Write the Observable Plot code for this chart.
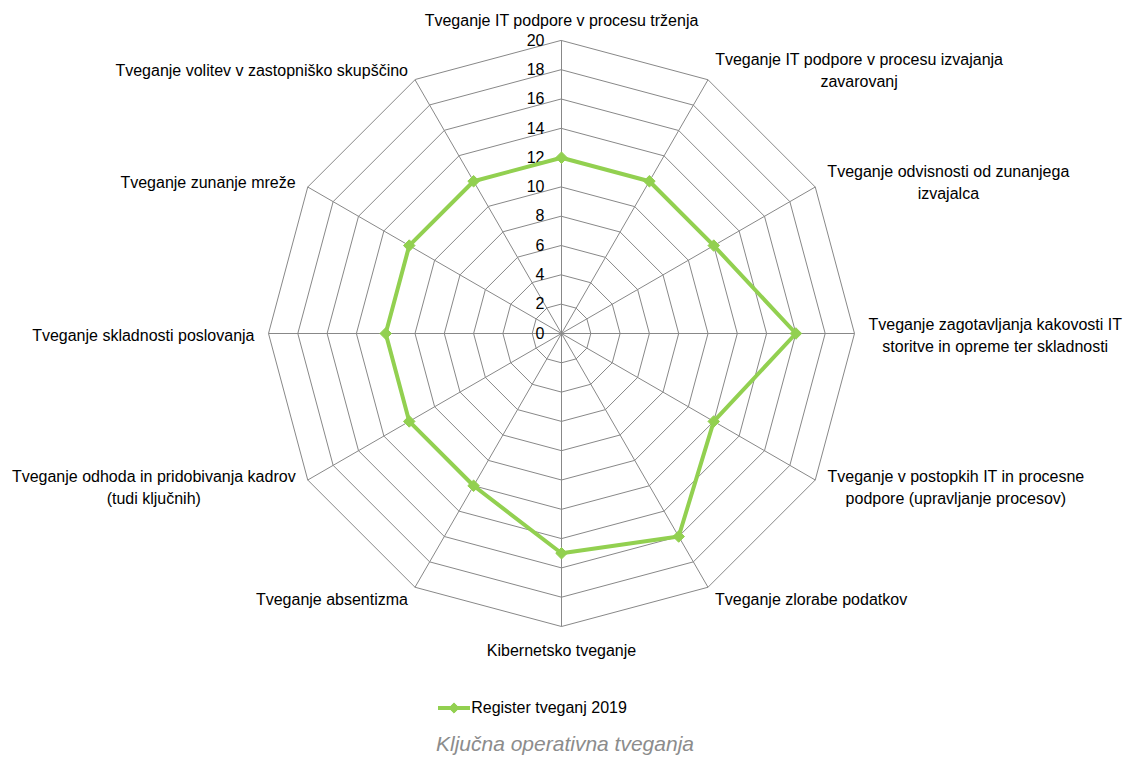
<!DOCTYPE html>
<html>
<head>
<meta charset="utf-8">
<script src="https://cdn.jsdelivr.net/npm/d3@7"></script>
<script src="https://cdn.jsdelivr.net/npm/@observablehq/plot@0.6"></script>
<style>
  html, body { margin: 0; padding: 0; background: #fff; }
  body { width: 1128px; font-family: "Liberation Sans", Arial, sans-serif; }
  #chart svg { display: block; }
  .legend { height: 20px; margin-top: 18px; display: flex; align-items: center; justify-content: center; padding-right: 64px; font-size: 16px; color: #000; }
  .caption { margin-top: 14px; text-align: center; font-style: italic; font-size: 21px; line-height: 24px; color: #8c8c8c; padding-left: 2px; }
</style>
</head>
<body>
<div id="chart"></div>
<div class="legend" id="legend"></div>
<div class="caption" id="caption"></div>
<script>
// ---- data ----
const categories = [
  "Tveganje IT podpore v procesu trženja",
  "Tveganje IT podpore v procesu izvajanja\nzavarovanj",
  "Tveganje odvisnosti od zunanjega\nizvajalca",
  "Tveganje zagotavljanja kakovosti IT\nstoritve in opreme ter skladnosti",
  "Tveganje v postopkih IT in procesne\npodpore (upravljanje procesov)",
  "Tveganje zlorabe podatkov",
  "Kibernetsko tveganje",
  "Tveganje absentizma",
  "Tveganje odhoda in pridobivanja kadrov\n(tudi ključnih)",
  "Tveganje skladnosti poslovanja",
  "Tveganje zunanje mreže",
  "Tveganje volitev v zastopniško skupščino"
];
const values = [12, 12, 12, 16, 12, 16, 15, 12, 12, 12, 12, 12];
const tickValues = [0, 2, 4, 6, 8, 10, 12, 14, 16, 18, 20];
const seriesName = "Register tveganj 2019";
const captionText = "Ključna operativna tveganja";

// ---- geometry ----
const W = 1128, H = 680, cx = 561, cy = 333, R = 293;
const maxV = d3.max(tickValues);
const k = R / maxV; // px per unit
const n = categories.length;
const ang = i => i * 2 * Math.PI / n;
const green = "#92D050";
const gridColor = "#888888";
const fontSize = 16;
const lineH = 22;
const markR = 5.2;

// rings
const rings = [];
tickValues.filter(t => t > 0).forEach(t => {
  for (let i = 0; i < n; i++) rings.push({ring: t, x: t * Math.sin(ang(i)), y: t * Math.cos(ang(i))});
});
// spokes
const spokes = categories.map((c, i) => ({x2: maxV * Math.sin(ang(i)), y2: maxV * Math.cos(ang(i))}));
// series
const pts = values.map((v, i) => ({cat: categories[i], v, x: v * Math.sin(ang(i)), y: v * Math.cos(ang(i))}));

// label placement (measure text)
const ctx = document.createElement("canvas").getContext("2d");
ctx.font = `${fontSize}px "Liberation Sans"`;
const labels = categories.map((c, i) => {
  const s = Math.sin(ang(i)), co = Math.cos(ang(i));
  const lines = c.split("\n");
  const w = d3.max(lines, l => ctx.measureText(l).width);
  let dxp, dyp;
  if (Math.abs(s) < 0.01) {
    dxp = 0;
    dyp = co * (11 + lines.length * 11);
  } else {
    dxp = Math.sign(s) * (14 * Math.abs(s) + w / 2);
    dyp = co * 12;
  }
  return {text: c, x: maxV * s + dxp / k, y: maxV * co + dyp / k};
});

const chart = Plot.plot({
  width: W,
  height: H,
  margin: 0,
  x: {domain: [-cx / k, (W - cx) / k], axis: null},
  y: {domain: [-(H - cy) / k, cy / k], axis: null},
  style: {fontFamily: '"Liberation Sans", Arial, sans-serif', background: "#fff"},
  marks: [
    Plot.line(rings, {x: "x", y: "y", z: "ring", curve: "linear-closed", stroke: gridColor, strokeWidth: 1}),
    Plot.link(spokes, {x1: 0, y1: 0, x2: "x2", y2: "y2", stroke: gridColor, strokeWidth: 1}),
    Plot.text(tickValues, {x: 0, y: d => d, text: d => String(d), textAnchor: "end", dx: -17, fontSize: fontSize, fill: "#000"}),
    Plot.line(pts, {x: "x", y: "y", curve: "linear-closed", stroke: green, strokeWidth: 4, strokeLinejoin: "round"}),
    Plot.dot(pts, {x: "x", y: "y", symbol: "diamond2", r: markR, fill: green, stroke: green, strokeWidth: 1}),
    Plot.text(labels, {x: "x", y: "y", text: "text", textAnchor: "middle", lineAnchor: "middle", lineHeight: lineH / fontSize, fontSize: fontSize, fill: "#000"})
  ]
});
document.getElementById("chart").appendChild(chart);

// legend
const leg = document.getElementById("legend");
const sw = d3.create("svg").attr("width", 34).attr("height", 14);
sw.append("line").attr("x1", 1).attr("x2", 33).attr("y1", 7).attr("y2", 7).attr("stroke", green).attr("stroke-width", 4);
sw.append("path").attr("d", d3.symbol(d3.symbolDiamond2, Math.PI * 4.6 * 4.6)()).attr("transform", "translate(17,7)").attr("fill", green).attr("stroke", green);
leg.appendChild(sw.node());
const lt = document.createElement("span");
lt.textContent = seriesName;
leg.appendChild(lt);
document.getElementById("caption").textContent = captionText;
</script>
</body>
</html>
